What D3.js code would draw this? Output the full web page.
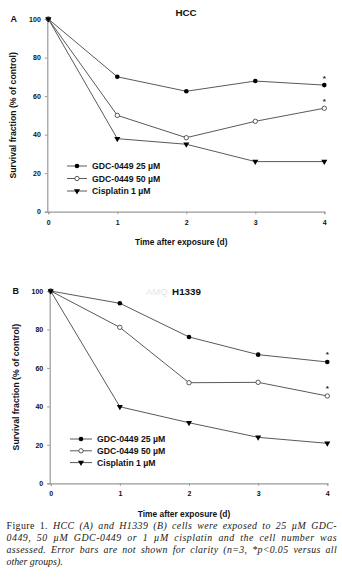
<!DOCTYPE html>
<html><head><meta charset="utf-8">
<script src="https://cdn.jsdelivr.net/npm/d3@7/dist/d3.min.js"></script>
<style>body{margin:0;background:#fff}svg{display:block}</style>
</head><body>
<script>
const days = [0, 1, 2, 3, 4];
const yTicks = [0, 20, 40, 60, 80, 100];
const seriesNames = ["GDC-0449 25 µM", "GDC-0449 50 µM", "Cisplatin 1 µM"];
const hccGdc25 = [100, 70.0, 62.5, 67.8, 65.7];
const hccGdc50 = [100, 50.0, 38.4, 46.9, 53.7];
const hccCis = [100, 37.9, 35.0, 26.0, 26.0];
const h1339Gdc25 = [100, 93.6, 76.1, 66.9, 63.1];
const h1339Gdc50 = [100, 81.1, 52.3, 52.5, 45.4];
const h1339Cis = [100, 39.8, 31.5, 23.9, 20.8];
const captionLines = [
  ["Figure 1. ", "HCC (A) and H1339 (B) cells were exposed to 25 µM GDC-"],
  ["", "0449, 50 µM GDC-0449 or 1 µM cisplatin and the cell number was"],
  ["", "assessed. Error bars are not shown for clarity (n=3, *p<0.05 versus all"],
  ["", "other groups)."]
];

const W = 342, H = 583;
const svg = d3.select("body").append("svg").attr("width", W).attr("height", H);
const font = "Arial, 'Liberation Sans', sans-serif";

function panel(cfg) {
  const x = d3.scaleLinear().domain([0, 4]).range([cfg.x0, cfg.x4]);
  const y = d3.scaleLinear().domain([0, 100]).range([cfg.y0, cfg.y100]);
  const g = svg.append("g");
  const xa = g.append("g").attr("transform", `translate(0,${cfg.y0})`)
    .call(d3.axisBottom(x).tickValues(days).tickSize(2.5).tickPadding(4).tickFormat(d3.format("d")));
  const ya = g.append("g").attr("transform", `translate(${cfg.x0 - 1},0)`)
    .call(d3.axisLeft(y).tickValues(yTicks).tickSize(2.5).tickPadding(4).tickFormat(d3.format("d")));
  [xa, ya].forEach(a => {
    a.select(".domain").attr("stroke", "#9a9a9a").attr("stroke-width", 1.2);
    a.selectAll(".tick line").attr("stroke", "#9a9a9a");
    a.selectAll("text").attr("font-family", font).attr("font-weight", "bold")
      .attr("font-size", 7).attr("fill", "#111");
  });
  xa.selectAll("text").attr("dy", "0.95em");
  g.append("text").attr("x", cfg.letterX).attr("y", y(100) + 3.2).text(cfg.letter)
    .attr("font-family", font).attr("font-weight", "bold").attr("font-size", 9).attr("fill", "#111");
  if (cfg.watermark) {
    g.append("text").attr("x", cfg.wmX).attr("y", cfg.titleY).text(cfg.watermark)
      .attr("font-family", font).attr("font-size", 9.5).attr("fill", "#e6e6e6");
  }
  g.append("text").attr("x", cfg.titleX).attr("y", cfg.titleY).attr("text-anchor", "middle").text(cfg.title)
    .attr("font-family", font).attr("font-weight", "bold").attr("font-size", 9.8).attr("fill", "#111");
  g.append("text").attr("transform", `translate(${cfg.ylabX},${(cfg.y0 + cfg.y100) / 2}) rotate(-90)`)
    .attr("text-anchor", "middle").attr("dy", "0.35em").text("Survival fraction (% of control)")
    .attr("font-family", font).attr("font-weight", "bold").attr("font-size", 8.7).attr("fill", "#111");
  g.append("text").attr("x", (cfg.x0 + cfg.x4) / 2 - 5).attr("y", cfg.xlabY).attr("text-anchor", "middle")
    .text("Time after exposure (d)")
    .attr("font-family", font).attr("font-weight", "bold").attr("font-size", 8.4).attr("fill", "#111");

  const line = d3.line().x((d, i) => x(days[i])).y(d => y(d));
  const tri = d3.symbol().type(d3.symbolTriangle).size(16);
  const series = cfg.series;
  series.forEach(vals => {
    g.append("path").datum(vals).attr("d", line).attr("fill", "none")
      .attr("stroke", "#5a5a5a").attr("stroke-width", 1);
  });
  series.forEach((vals, si) => {
    const pts = g.append("g").selectAll("g").data(vals).join("g")
      .attr("transform", (d, i) => `translate(${x(days[i])},${y(d)})`);
    drawMarker(pts, si, tri);
  });
  [0, 1].forEach(si => {
    const v = series[si][4];
    g.append("text").attr("x", x(4)).attr("y", y(v) - 4.5).attr("text-anchor", "middle").text("*")
      .attr("font-family", font).attr("font-weight", "bold").attr("font-size", 8).attr("fill", "#222");
  });
  const lg = g.append("g");
  seriesNames.forEach((name, i) => {
    const ly = cfg.legY + i * cfg.legDy;
    lg.append("line").attr("x1", cfg.legX).attr("x2", cfg.legX + cfg.legLen).attr("y1", ly).attr("y2", ly)
      .attr("stroke", "#5a5a5a").attr("stroke-width", 1);
    const m = lg.append("g").attr("transform", `translate(${cfg.legX + cfg.legLen / 2},${ly})`);
    drawMarker(m, i, tri);
    lg.append("text").attr("x", cfg.legX + cfg.legLen + 5).attr("y", ly).attr("dy", "0.35em").text(name)
      .attr("font-family", font).attr("font-weight", "bold").attr("font-size", 8.7).attr("fill", "#111");
  });
}
function drawMarker(sel, si, tri) {
  if (si === 0) sel.append("circle").attr("r", 2.3).attr("fill", "#000");
  else if (si === 1) sel.append("circle").attr("r", 2.2).attr("fill", "#fff").attr("stroke", "#333").attr("stroke-width", 0.8);
  else sel.append("path").attr("d", tri).attr("transform", "rotate(180)").attr("fill", "#000");
}

panel({x0: 48.3, x4: 324.3, y0: 211.7, y100: 19, letter: "A", letterX: 10.5, title: "HCC", titleX: 186, titleY: 15.5,
  ylabX: 13, xlabY: 244.5, series: [hccGdc25, hccGdc50, hccCis],
  legX: 67, legLen: 20, legY: 166, legDy: 12.5});
panel({x0: 50.7, x4: 327.3, y0: 483.3, y100: 291, letter: "B", letterX: 12.5, title: "H1339", titleX: 186.5, titleY: 294.5,
  watermark: "AMQ", wmX: 146, ylabX: 15.5, xlabY: 516.5, series: [h1339Gdc25, h1339Gdc50, h1339Cis],
  legX: 70, legLen: 22, legY: 439, legDy: 11.8});

// caption (justified lines)
const cap = svg.append("text").attr("font-family", "'Liberation Serif', 'Times New Roman', serif")
  .attr("font-size", 9.9).attr("fill", "#1a1a1a");
const capX = 6.5, capW = 330.5;
captionLines.forEach((ln, i) => {
  const t = cap.append("tspan").attr("x", capX).attr("y", 529 + i * 12).attr("class", "capline");
  if (ln[0]) t.append("tspan").text(ln[0]);
  t.append("tspan").attr("font-style", "italic").text(ln[1]);
});
cap.selectAll(".capline").each(function(d, i) {
  if (i >= 3) return;
  const len = this.getComputedTextLength();
  const txt = captionLines[i][0] + captionLines[i][1];
  const spaces = (txt.match(/ /g) || []).length;
  const chars = txt.length;
  const extra = capW - len;
  if (extra > 0) {
    const ls = (extra * 0.5) / chars;
    const ws = (extra * 0.5) / spaces;
    d3.select(this).selectAll("tspan").attr("letter-spacing", ls).attr("word-spacing", ws);
  }
});
</script>
</body></html>
